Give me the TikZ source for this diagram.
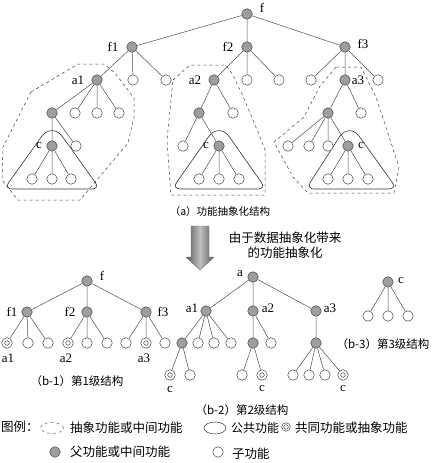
\documentclass[tikz,border=0pt]{standalone}
\usepackage{fontspec}
\setmainfont{Liberation Serif}
\newfontfamily\cjk{Noto Sans CJK SC}
\begin{document}
\begin{tikzpicture}[x=1pt,y=-1pt,
 fn/.style={circle,draw=black!75,line width=0.5pt,minimum size=10.5pt,inner sep=0pt},
 gnode/.style={fn,fill=black!38},
 wnode/.style={fn,fill=white},
 dnode/.style={fn,fill=white,path picture={\draw[black!75,line width=0.5pt] (path picture bounding box.center) circle (2.3pt);}},
 edge/.style={black!70,line width=0.5pt},
 lbl/.style={font=\fontsize{13}{13}\selectfont,inner sep=0pt},
 zone/.style={dashed,black!75,line width=0.5pt},
 tri/.style={black!80,line width=0.6pt},
 captxt/.style={font=\cjk\fontsize{10.5}{12}\selectfont,inner sep=0pt},
 bigtxt/.style={font=\cjk\fontsize{12.5}{15}\selectfont,inner sep=0pt,align=center},
]
\useasboundingbox (0,0) rectangle (442,463);

% ---------------- part (a) ----------------
\draw[tri] (52,189) [rounded corners=8pt] -- (4,189) [rounded corners=18pt] -- (52,122) [rounded corners=8pt] -- (100,189) [sharp corners] -- cycle;
\draw[tri] (219,189) [rounded corners=8pt] -- (172,189) [rounded corners=18pt] -- (219,122) [rounded corners=8pt] -- (266,189) [sharp corners] -- cycle;
\draw[tri] (349,189) [rounded corners=8pt] -- (306,189) [rounded corners=18pt] -- (349,122) [rounded corners=8pt] -- (397,189) [sharp corners] -- cycle;

\draw[zone] (31,92) -- (78,64) -- (104,64) -- (115,73) -- (134,98) -- (134,117) -- (128,143) -- (80,200) -- (18,200) -- (2,180) -- (3,147) -- cycle;
\draw[zone] (173,80) -- (190,65) -- (226,65) -- (233,75) -- (242,94) -- (258,132) -- (265,150) -- (265,195) -- (171,195) -- (170,183) -- (167,140) -- cycle;
\draw[zone] (336,67) -- (361,67) -- (376,97) -- (399,167) -- (394,193) -- (308,193) -- (293,177) -- (274,142) -- (304,117) -- (320,86) -- cycle;

\node[gnode] (F) at (247,14) {};
\node[gnode] (F1) at (132,47) {};
\node[gnode] (F2) at (247,47) {};
\node[gnode] (F3) at (345,47) {};
\node[gnode] (A1) at (97,80) {};
\node[wnode] (F1b) at (133,80) {};
\node[wnode] (F1c) at (166,80) {};
\node[gnode] (A2) at (214,80) {};
\node[wnode] (F2b) at (247,80) {};
\node[wnode] (F2c) at (279,80) {};
\node[wnode] (F3a) at (311,80) {};
\node[gnode] (A3) at (345,80) {};
\node[wnode] (F3c) at (378,80) {};

\node[gnode] (A1g) at (52,113) {};
\node[wnode] (A1b) at (75,113) {};
\node[wnode] (A1c) at (97,113) {};
\node[wnode] (A1d) at (119,113) {};
\node[gnode] (C1) at (52,146) {};
\node[wnode] (A1gw) at (76,146) {};
\node[wnode] (C1a) at (32,179) {};
\node[wnode] (C1b) at (52,179) {};
\node[wnode] (C1c) at (71,179) {};

\node[gnode] (A2g) at (199,113) {};
\node[wnode] (A2w) at (233,113) {};
\node[wnode] (A2gw) at (183,146) {};
\node[gnode] (C2) at (219,146) {};
\node[wnode] (C2a) at (199,179) {};
\node[wnode] (C2b) at (219,179) {};
\node[wnode] (C2c) at (239,179) {};

\node[gnode] (A3g) at (328,113) {};
\node[wnode] (A3w) at (361,113) {};
\node[wnode] (A3a) at (288,146) {};
\node[wnode] (A3b) at (309,146) {};
\node[wnode] (A3c) at (328,146) {};
\node[gnode] (C3) at (348,146) {};
\node[wnode] (C3a) at (328,179) {};
\node[wnode] (C3b) at (348,179) {};
\node[wnode] (C3c) at (368,179) {};

\draw[edge] (F)--(F1) (F)--(F2) (F)--(F3)
 (F1)--(A1) (F1)--(F1b) (F1)--(F1c)
 (F2)--(A2) (F2)--(F2b) (F2)--(F2c)
 (F3)--(F3a) (F3)--(A3) (F3)--(F3c)
 (A1)--(A1g) (A1)--(A1b) (A1)--(A1c) (A1)--(A1d)
 (A1g)--(C1) (A1g)--(A1gw) (C1)--(C1a) (C1)--(C1b) (C1)--(C1c)
 (A2)--(A2g) (A2)--(A2w) (A2g)--(A2gw) (A2g)--(C2)
 (C2)--(C2a) (C2)--(C2b) (C2)--(C2c)
 (A3)--(A3g) (A3)--(A3w) (A3g)--(A3a) (A3g)--(A3b) (A3g)--(A3c) (A3g)--(C3)
 (C3)--(C3a) (C3)--(C3b) (C3)--(C3c);

\node[lbl] (lf) at (262,8) {f};
\node[lbl] (lf1) at (113,47) {f1};
\node[lbl] (lf2) at (228,47) {f2};
\node[lbl] (lf3) at (363,44) {f3};
\node[lbl] (la1) at (78,80) {a1};
\node[lbl] (la2) at (195,80) {a2};
\node[lbl] (la3) at (358,80) {a3};
\node[lbl] (lc1) at (39,145) {c};
\node[lbl] (lc2) at (206,145) {c};
\node[lbl] (lc3) at (361,145) {c};

\node[captxt] (capa) at (220,212) {（a）功能抽象化结构};

% ---------------- arrow ----------------
\shade[left color=black!65,right color=black!65,middle color=black!25,draw=black!60]
 (191,226) -- (209,226) -- (209,257) -- (214,257) -- (200,270) -- (186,257) -- (191,257) -- cycle;
\node[bigtxt] (arrtxt) at (285,245) {由于数据抽象化带来\\的功能抽象化};

% ---------------- part (b-1) ----------------
\node[gnode] (BF) at (87,281) {};
\node[gnode] (BF1) at (27,312) {};
\node[gnode] (BF2) at (87,312) {};
\node[gnode] (BF3) at (146,312) {};
\node[dnode] (B1a) at (7,343) {};
\node[wnode] (B1b) at (28,343) {};
\node[wnode] (B1c) at (48,343) {};
\node[dnode] (B2a) at (68,343) {};
\node[wnode] (B2b) at (87,343) {};
\node[wnode] (B2c) at (107,343) {};
\node[wnode] (B3a) at (126,343) {};
\node[dnode] (B3b) at (146,343) {};
\node[wnode] (B3c) at (165,343) {};
\draw[edge] (BF)--(BF1) (BF)--(BF2) (BF)--(BF3)
 (BF1)--(B1a) (BF1)--(B1b) (BF1)--(B1c)
 (BF2)--(B2a) (BF2)--(B2b) (BF2)--(B2c)
 (BF3)--(B3a) (BF3)--(B3b) (BF3)--(B3c);
\node[lbl] (lbf) at (102,276) {f};
\node[lbl] (lbf1) at (12,312) {f1};
\node[lbl] (lbf2) at (70,312) {f2};
\node[lbl] (lbf3) at (163,312) {f3};
\node[lbl] (lba1) at (8,358) {a1};
\node[lbl] (lba2) at (66,358) {a2};
\node[lbl] (lba3) at (144,358) {a3};
\node[captxt,font=\cjk\fontsize{11.5}{12}\selectfont] (capb1) at (77,381) {（b-1）第1级结构};

% ---------------- part (b-2) ----------------
\node[gnode] (BA) at (253,277) {};
\node[gnode] (BA1) at (206,311) {};
\node[gnode] (BA2) at (253,311) {};
\node[gnode] (BA3) at (316,311) {};
\node[gnode] (G1) at (182,343) {};
\node[wnode] (G1b) at (198,343) {};
\node[wnode] (G1c) at (214,343) {};
\node[wnode] (G1d) at (231,343) {};
\node[gnode] (G2) at (253,343) {};
\node[wnode] (G2b) at (271,343) {};
\node[gnode] (G3) at (316,343) {};
\node[dnode] (H1a) at (170,375) {};
\node[wnode] (H1b) at (190,375) {};
\node[wnode] (H2a) at (242,375) {};
\node[dnode] (H2b) at (262,375) {};
\node[wnode] (H3a) at (293,375) {};
\node[wnode] (H3b) at (309,375) {};
\node[wnode] (H3c) at (325,375) {};
\node[dnode] (H3d) at (343,375) {};
\draw[edge] (BA)--(BA1) (BA)--(BA2) (BA)--(BA3)
 (BA1)--(G1) (BA1)--(G1b) (BA1)--(G1c) (BA1)--(G1d)
 (BA2)--(G2) (BA2)--(G2b) (BA3)--(G3)
 (G1)--(H1a) (G1)--(H1b) (G2)--(H2a) (G2)--(H2b)
 (G3)--(H3a) (G3)--(H3b) (G3)--(H3c) (G3)--(H3d);
\node[lbl] (lba) at (240,274) {a};
\node[lbl] (lbaa1) at (192,308) {a1};
\node[lbl] (lbaa2) at (268,308) {a2};
\node[lbl] (lbaa3) at (330,308) {a3};
\node[lbl] (lhc1) at (170,389) {c};
\node[lbl] (lhc2) at (262,388) {c};
\node[lbl] (lhc3) at (343,388) {c};
\node[captxt,font=\cjk\fontsize{11.5}{12}\selectfont] (capb2) at (242,410) {（b-2）第2级结构};

% ---------------- part (b-3) ----------------
\node[gnode] (CC) at (388,282) {};
\node[wnode] (CCa) at (368,316) {};
\node[wnode] (CCb) at (388,316) {};
\node[wnode] (CCc) at (408,316) {};
\draw[edge] (CC)--(CCa) (CC)--(CCb) (CC)--(CCc);
\node[lbl] (lcc) at (401,280) {c};
\node[captxt,font=\cjk\fontsize{11.5}{12}\selectfont] (capb3) at (383,344) {（b-3）第3级结构};

% ---------------- legend ----------------
\node[bigtxt,anchor=west] (legt) at (1,427) {图例：};
\draw[dashed,black!70,line width=0.4pt] (52,428) ellipse (11.5pt and 5.5pt);
\node[bigtxt,anchor=west] (leg1) at (70,428) {抽象功能或中间功能};
\draw[black!80,line width=0.5pt] (215,428) ellipse (11pt and 6pt);
\node[bigtxt,anchor=west,font=\cjk\fontsize{12}{15}\selectfont] (leg2) at (231,428) {公共功能};
\node[dnode,minimum size=8.5pt] (legd) at (286,427) {};
\node[bigtxt,anchor=west] (leg3) at (295,428) {共同功能或抽象功能};
\node[gnode] (legg) at (55,452) {};
\node[bigtxt,anchor=west] (leg4) at (70,452) {父功能或中间功能};
\node[wnode] (legw) at (218,452) {};
\node[bigtxt,anchor=west] (leg5) at (232,454) {子功能};
\end{tikzpicture}
\end{document}
